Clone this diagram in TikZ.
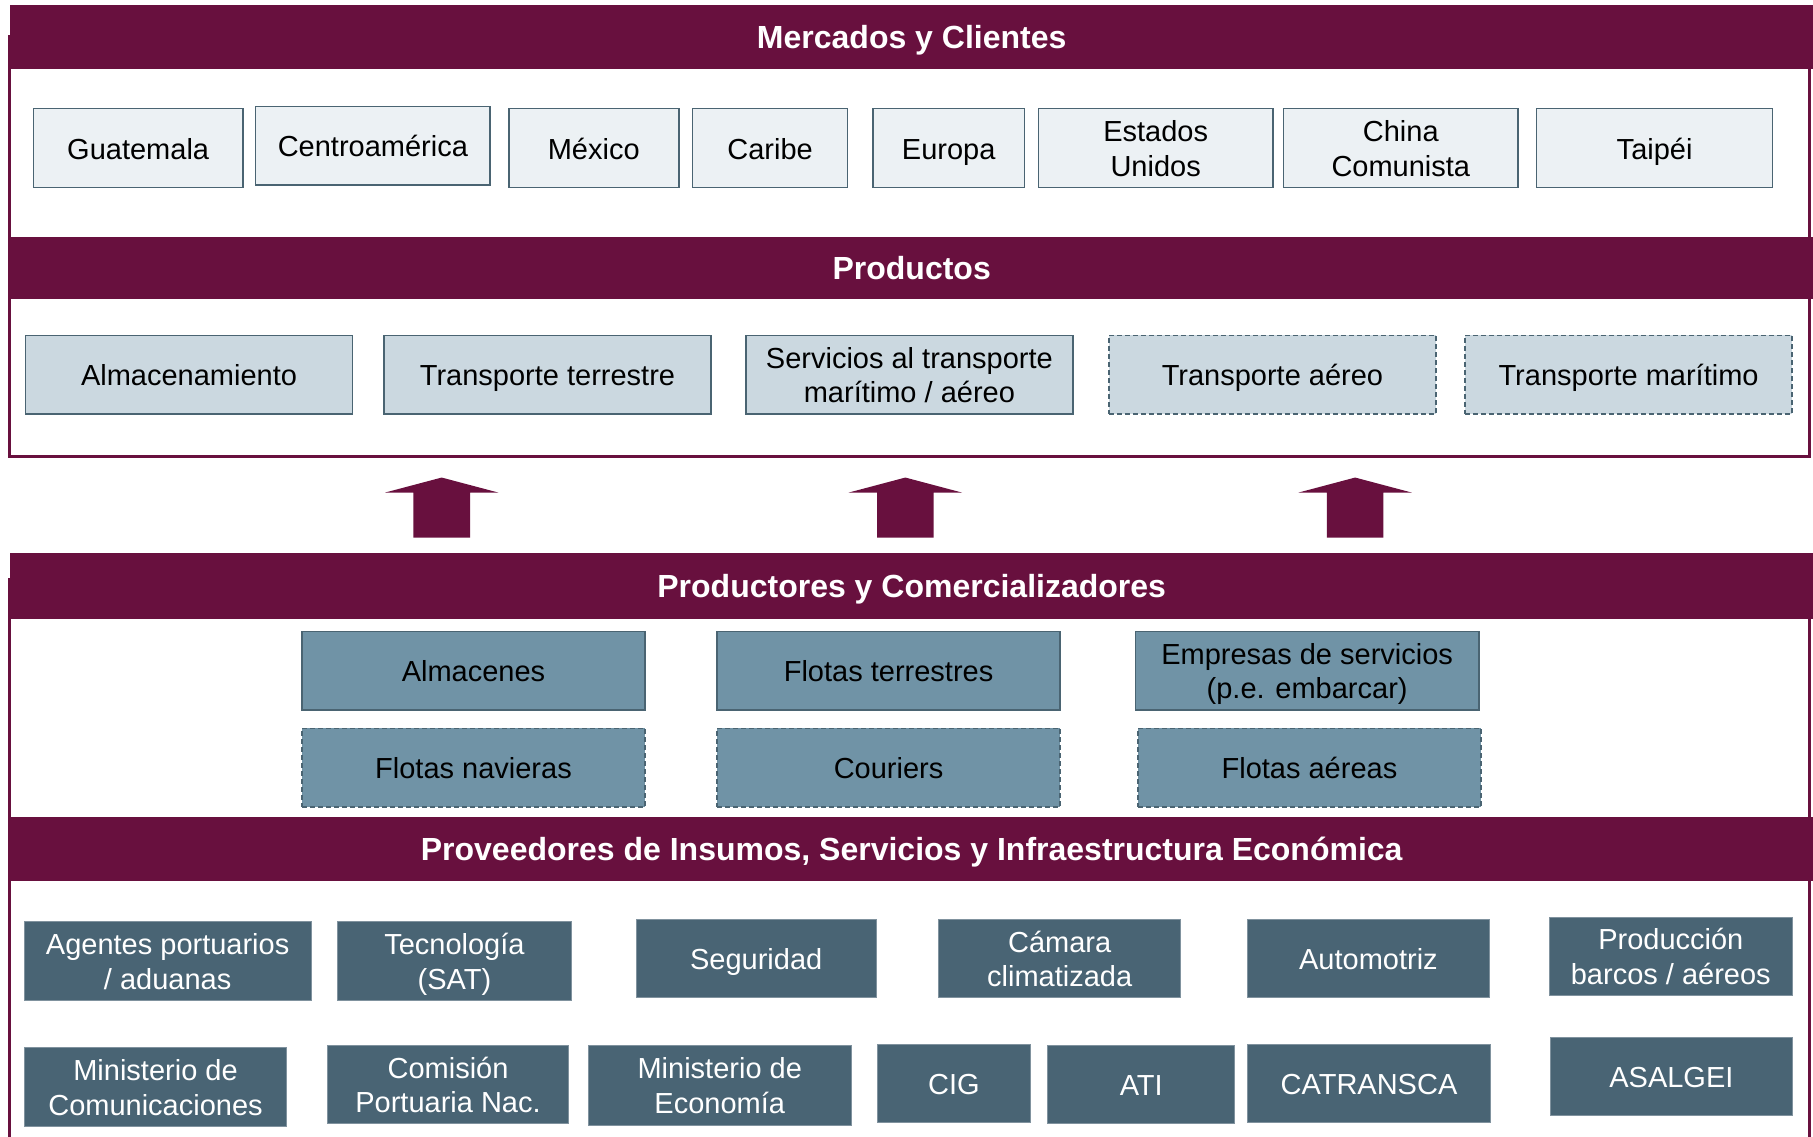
\documentclass[tikz,border=0pt]{standalone}
\usepackage{fontspec}
\setmainfont{Liberation Sans}
\definecolor{maroon}{RGB}{104,16,62}
\definecolor{edgeblue}{RGB}{74,100,114}
\definecolor{lightfill}{RGB}{236,241,244}
\definecolor{prodfill}{RGB}{203,216,224}
\definecolor{midfill}{RGB}{112,147,166}
\definecolor{darkfill}{RGB}{73,100,116}
\newcommand{\bx}[7]{\node[#6, minimum width={(#4-#2)*1.15625pt}, minimum height={(#5-#3)*1.15625pt}] (#1) at ({(#2+#4)/2},{(#3+#5)/2}) {#7};}
\tikzset{
  boxbase/.style={rectangle, inner sep=0pt, align=center, text height=27pt, text depth=5pt, font=\fontsize{29}{34.5}\selectfont},
  two/.style={text height=61.5pt},
  mktbox/.style={boxbase, draw=edgeblue, line width=1.6pt, fill=lightfill, text=black},
  prdbox/.style={boxbase, draw=edgeblue, line width=1.6pt, fill=prodfill, text=black},
  prddash/.style={prdbox, dash pattern=on 5pt off 3pt},
  midbox/.style={boxbase, draw=edgeblue, line width=1.6pt, fill=midfill, text=black},
  middash/.style={midbox, dash pattern=on 5pt off 3pt},
  drkbox/.style={boxbase, draw=darkfill!70!white, line width=0.8pt, fill=darkfill, text=white},
  banner/.style={rectangle, inner sep=0pt, fill=maroon, text=white, text height=27pt, text depth=4pt, font=\fontsize{32}{37}\selectfont\bfseries},
  frameline/.style={draw=maroon, line width=3pt},
  uparrow/.style={fill=maroon, draw=none}
}
\begin{document}
\begin{tikzpicture}[x=1.15625pt, y=-1.15625pt]
\useasboundingbox (0,0) rectangle (1568,983);
% top frame
\draw[frameline] (8,30) -- (8,395) -- (1565,395) -- (1565,30);
\bx{bMerc}{9}{4}{1568}{60}{banner}{Mercados y Clientes}
\bx{bProd}{9}{205}{1568}{259}{banner}{Productos}
% markets
\bx{guat}{29}{94}{210}{162}{mktbox}{Guatemala}
\bx{centro}{221}{92}{424}{160}{mktbox}{Centroamérica}
\bx{mex}{440}{94}{587}{162}{mktbox}{México}
\bx{carib}{599}{94}{733}{162}{mktbox}{Caribe}
\bx{euro}{755}{94}{886}{162}{mktbox}{Europa}
\bx{eeuu}{898}{94}{1101}{162}{mktbox,two}{Estados\\Unidos}
\bx{china}{1110}{94}{1313}{162}{mktbox,two}{China\\Comunista}
\bx{taipei}{1329}{94}{1533}{162}{mktbox}{Taipéi}
% products
\bx{palm}{22}{290}{305}{358}{prdbox}{Almacenamiento}
\bx{pter}{332}{290}{615}{358}{prdbox}{Transporte terrestre}
\bx{pserv}{645}{290}{928}{358}{prdbox,two}{Servicios al transporte\\marítimo / aéreo}
\bx{paer}{959}{290}{1242}{358}{prddash}{Transporte aéreo}
\bx{pmar}{1267}{290}{1550}{358}{prddash}{Transporte marítimo}
% arrows
\foreach \cx/\nm in {382/a1,783/a2,1172/a3}{
  \fill[uparrow] (\cx,413) -- ({\cx+49},426) -- ({\cx+24.5},426) -- ({\cx+24.5},465)
     -- ({\cx-24.5},465) -- ({\cx-24.5},426) -- ({\cx-49},426) -- cycle;
}
% lower frame
\draw[frameline] (8,500) -- (8,990);
\draw[frameline] (1565,500) -- (1565,990);
\bx{bPC}{9}{478}{1568}{535}{banner}{Productores y Comercializadores}
\bx{bProv}{9}{707}{1568}{762}{banner}{Proveedores de Insumos, Servicios y Infraestructura Económica}
% producers
\bx{almac}{261}{546}{558}{614}{midbox}{Almacenes}
\bx{fter}{620}{546}{917}{614}{midbox}{Flotas terrestres}
\bx{empr}{982}{546}{1279}{614}{midbox,two}{Empresas de servicios\\(p.e. embarcar)}
\bx{fnav}{261}{630}{558}{698}{middash}{Flotas navieras}
\bx{cour}{620}{630}{917}{698}{middash}{Couriers}
\bx{faer}{984}{630}{1281}{698}{middash}{Flotas aéreas}
% providers row 1
\bx{agent}{21}{797}{269}{865}{drkbox,two}{Agentes portuarios\\/ aduanas}
\bx{tecno}{292}{797}{494}{865}{drkbox,two}{Tecnología\\(SAT)}
\bx{segur}{550}{795}{758}{863}{drkbox}{Seguridad}
\bx{camara}{812}{795}{1021}{863}{drkbox,two}{Cámara\\climatizada}
\bx{auto}{1079}{795}{1288}{863}{drkbox}{Automotriz}
\bx{produc}{1340}{793}{1550}{861}{drkbox,two}{Producción\\barcos / aéreos}
% providers row 2
\bx{mincom}{21}{906}{248}{974}{drkbox,two}{Ministerio de\\Comunicaciones}
\bx{cpn}{283}{904}{492}{972}{drkbox,two}{Comisión\\Portuaria Nac.}
\bx{mineco}{509}{904}{736}{973}{drkbox,two}{Ministerio de\\Economía}
\bx{cig}{759}{903}{891}{971}{drkbox}{CIG}
\bx{ati}{906}{904}{1068}{972}{drkbox}{ATI}
\bx{catr}{1079}{903}{1289}{971}{drkbox}{CATRANSCA}
\bx{asal}{1341}{897}{1550}{965}{drkbox}{ASALGEI}
\end{tikzpicture}
\end{document}
